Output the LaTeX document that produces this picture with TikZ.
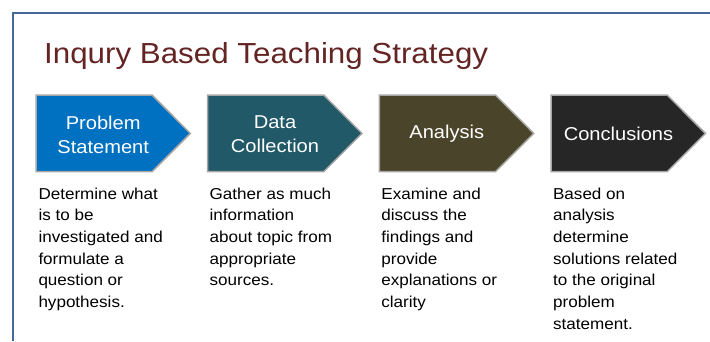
\documentclass[tikz,border=0pt]{standalone}
\usepackage{fontspec}
\setmainfont{Liberation Sans}[FakeStretch=1.08]
\definecolor{frameblue}{RGB}{68,104,156}
\definecolor{titlered}{RGB}{99,36,35}
\definecolor{cblue}{RGB}{0,112,192}
\definecolor{cteal}{RGB}{33,89,104}
\definecolor{colive}{RGB}{74,69,42}
\definecolor{cdark}{RGB}{38,38,38}
\begin{document}
\begin{tikzpicture}[x=1pt,y=-1pt,
  chev/.style={draw={rgb,255:red,166;green,166;blue,166},line width=1.5pt},
  head/.style={text=white,align=center,inner sep=0pt,font=\fontsize{18.6}{24}\selectfont},
  desc/.style={anchor=base west,align=left,inner sep=0pt,font=\fontsize{15.8}{21.7}\selectfont}]
\useasboundingbox (0,0) rectangle (710,341);
\draw[frameblue,line width=2pt] (12.5,341) -- (12.5,12.5) -- (710,12.5);
\node[anchor=base west,inner sep=0pt,text=titlered,font=\fontsize{29}{34}\selectfont] (title) at (44,63.3) {Inqury Based Teaching Strategy};
\path[chev,fill=cblue] (36,95) -- (152,95) -- (190.3,133.4) -- (152,171.7) -- (36,171.7) -- cycle;
\path[chev,fill=cteal] (207.7,95) -- (323.7,95) -- (362,133.4) -- (323.7,171.7) -- (207.7,171.7) -- cycle;
\path[chev,fill=colive] (379.4,95) -- (495.4,95) -- (533.7,133.4) -- (495.4,171.7) -- (379.4,171.7) -- cycle;
\path[chev,fill=cdark] (551.1,95) -- (667.1,95) -- (705.4,133.4) -- (667.1,171.7) -- (551.1,171.7) -- cycle;
\node[head] (ps) at (103.2,134.5) {Problem\\Statement};
\node[head] (dc) at (275,134.5) {Data\\Collection};
\node[head] (an) at (446.8,133.5) {Analysis};
\node[head] (co) at (618.5,133.5) {Conclusions};
% base = last line
\node[desc] (psd) at (38.3,307.5) {Determine what\\is to be\\investigated and\\formulate a\\question or\\hypothesis.};
\node[desc] (dcd) at (209.5,285.8) {Gather as much\\information\\about topic from\\appropriate\\sources.};
\node[desc] (and) at (381.2,307.5) {Examine and\\discuss the\\findings and\\provide\\explanations or\\clarity};
\node[desc] (cod) at (552.9,329.2) {Based on\\analysis\\determine\\solutions related\\to the original\\problem\\statement.};
\end{tikzpicture}
\end{document}
